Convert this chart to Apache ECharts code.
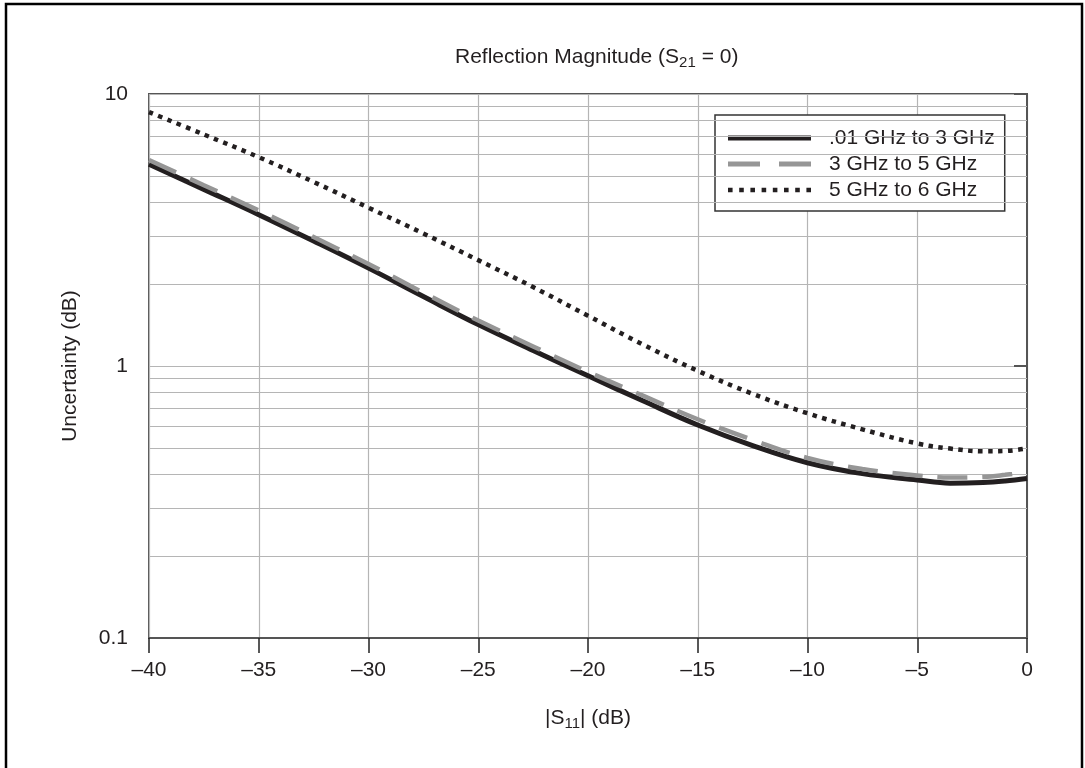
<!DOCTYPE html>
<html>
<head>
<meta charset="utf-8">
<script src="https://cdn.jsdelivr.net/npm/echarts@6/dist/echarts.min.js"></script>
<style>
html,body{margin:0;padding:0;background:#fff;}
#chart{width:1085px;height:768px;}
</style>
</head>
<body>
<div id="chart"></div>
<script>
// ---- data ----
var xValues = [-40, -37.5, -35, -32.5, -30, -27.5, -25, -22.5, -20, -17.5, -15, -12.5, -10, -7.5, -5, -3.5, -2, -1, 0];
var band1 = [5.52, 4.46, 3.60, 2.88, 2.29, 1.80, 1.42, 1.14, 0.92, 0.745, 0.607, 0.51, 0.441, 0.402, 0.381, 0.371, 0.373, 0.378, 0.386];
var band2 = [5.72, 4.62, 3.73, 2.98, 2.37, 1.86, 1.47, 1.18, 0.952, 0.778, 0.637, 0.535, 0.459, 0.418, 0.396, 0.389, 0.391, 0.398, 0.408];
var band3 = [8.58, 7.10, 5.86, 4.75, 3.82, 3.07, 2.45, 1.95, 1.53, 1.20, 0.96, 0.79, 0.67, 0.585, 0.519, 0.497, 0.486, 0.487, 0.498];
var seriesNames = ['.01 GHz to 3 GHz', '3 GHz to 5 GHz', '5 GHz to 6 GHz'];
var yTickLabels = ['0.1', '1', '10'];
var minorGridValues = [0.2, 0.3, 0.4, 0.5, 0.6, 0.7, 0.8, 0.9, 2, 3, 4, 5, 6, 7, 8, 9];

function pairs(xs, ys) { return xs.map(function (x, i) { return [x, ys[i]]; }); }

var FONT = '"Liberation Sans", Arial, Helvetica, sans-serif';
var TXT = '#231f20';

// legend sample shapes (solid bar, two dashes, eight dots)
var iconSolid = 'path://M0,0H83V5H0Z';
var iconDashed = 'path://M0,0H32V5H0Z M51,0H83V5H51Z';
var iconDotted = 'path://' + [0, 1, 2, 3, 4, 5, 6, 7].map(function (i) {
  var x0 = i * 11;
  return 'M' + x0 + ',0H' + (x0 + 4.5) + 'V4.5H' + x0 + 'Z';
}).join(' ');

var chart = echarts.init(document.getElementById('chart'));
chart.setOption({
  animation: false,
  backgroundColor: '#fff',
  textStyle: { fontFamily: FONT, color: TXT },
  title: {
    text: '{a|Reflection Magnitude (S}{s|21}{a| = 0)}',
    left: 450,
    top: 38,
    textStyle: {
      fontWeight: 'normal',
      rich: {
        a: { fontFamily: FONT, fontSize: 21, fontWeight: 'normal', color: TXT, lineHeight: 28 },
        s: { fontFamily: FONT, fontSize: 15, fontWeight: 'normal', color: TXT, padding: [11, 0, 0, 0] }
      }
    }
  },
  graphic: [{
    type: 'rect',
    shape: { x: 6, y: 4, width: 1076, height: 790 },
    style: { fill: 'none', stroke: '#000', lineWidth: 2.5 },
    silent: true
  }],
  grid: {
    left: 149, right: 58, top: 94, bottom: 130,
    show: true, borderColor: '#555', borderWidth: 2, backgroundColor: 'transparent'
  },
  legend: {
    data: [
      { name: seriesNames[0], icon: iconSolid, itemStyle: { color: '#231f20', borderWidth: 0 } },
      { name: seriesNames[1], icon: iconDashed, itemStyle: { color: '#969696', borderWidth: 0 } },
      { name: seriesNames[2], icon: iconDotted, itemStyle: { color: '#231f20', borderWidth: 0 } }
    ],
    orient: 'vertical',
    left: 715,
    top: 115,
    padding: [10, 10, 8, 13],
    itemWidth: 83,
    itemHeight: 5,
    itemGap: 0,
    borderColor: '#333',
    borderWidth: 1.5,
    backgroundColor: '#fff',
    formatter: function (n) { return '{t|' + n + '}'; },
    textStyle: {
      fontFamily: FONT, fontSize: 21, color: TXT, lineHeight: 26,
      rich: { t: { fontFamily: FONT, fontSize: 21, color: TXT, lineHeight: 26, padding: [0, 0, 0, 13] } }
    }
  },
  xAxis: {
    type: 'value',
    min: -40, max: 0, interval: 5,
    name: '{a||S}{s|11}{a|| (dB)}',
    nameLocation: 'middle',
    nameGap: 66,
    nameTextStyle: {
      rich: {
        a: { fontFamily: FONT, fontSize: 21, color: TXT, lineHeight: 28 },
        s: { fontFamily: FONT, fontSize: 15, color: TXT, padding: [11, 0, 0, 0] }
      }
    },
    axisLine: { onZero: false, lineStyle: { color: '#555', width: 2 } },
    axisTick: { show: true, inside: false, length: 15, lineStyle: { color: '#222', width: 1.5 } },
    axisLabel: {
      margin: 22, fontSize: 21, fontFamily: FONT, color: TXT,
      formatter: function (v) { return v < 0 ? '\u2013' + Math.abs(v) : String(v); }
    },
    splitLine: { show: true, lineStyle: { color: '#b5b5b5', width: 1.2 } }
  },
  yAxis: {
    type: 'log',
    logBase: 10,
    min: 0.1, max: 10,
    name: 'Uncertainty (dB)',
    nameLocation: 'middle',
    nameGap: 68,
    nameTextStyle: { fontFamily: FONT, fontSize: 21, color: TXT },
    axisLine: { show: true, lineStyle: { color: '#555', width: 2 } },
    axisTick: { show: true, inside: false, length: 13, lineStyle: { color: '#555', width: 2 } },
    axisLabel: {
      margin: 21, fontSize: 21, fontFamily: FONT, color: TXT,
      formatter: function (v) {
        var k = Math.round(Math.log10(v)) + 1;
        return yTickLabels[k] !== undefined ? yTickLabels[k] : String(v);
      }
    },
    splitLine: { show: true, lineStyle: { color: '#b5b5b5', width: 1.2 } }
  },
  series: [
    {
      name: 'minor-grid',
      type: 'line',
      data: [],
      z: 1,
      silent: true,
      markLine: {
        silent: true,
        symbol: ['none', 'none'],
        label: { show: false },
        lineStyle: { color: '#b5b5b5', width: 1.2, type: 'solid' },
        emphasis: { disabled: true },
        data: minorGridValues.map(function (v) { return { yAxis: v }; })
      }
    },
    {
      name: seriesNames[0],
      type: 'line',
      data: pairs(xValues, band1),
      smooth: 0.4,
      showSymbol: false,
      symbol: 'none',
      z: 5,
      itemStyle: { color: '#231f20' },
      lineStyle: { color: '#231f20', width: 5 }
    },
    {
      name: seriesNames[1],
      type: 'line',
      data: pairs(xValues, band2),
      smooth: 0.4,
      showSymbol: false,
      symbol: 'none',
      z: 6,
      itemStyle: { color: '#969696' },
      lineStyle: { color: '#969696', width: 4.5, type: [30, 15], cap: 'butt' }
    },
    {
      name: seriesNames[2],
      type: 'line',
      data: pairs(xValues, band3),
      smooth: 0.4,
      showSymbol: false,
      symbol: 'none',
      z: 7,
      itemStyle: { color: '#231f20' },
      lineStyle: { color: '#231f20', width: 4.5, type: [4.5, 5.5], cap: 'butt' }
    }
  ]
});
</script>
</body>
</html>
